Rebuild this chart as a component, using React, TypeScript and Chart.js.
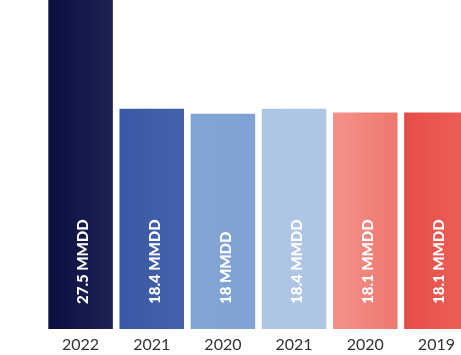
import React, { useEffect, useRef } from "react";
import { Chart, registerables } from "chart.js";

Chart.register(...registerables);

const categories = ["2022", "2021", "2020", "2021", "2020", "2019"];
const values = [27.5, 18.4, 18, 18.4, 18.1, 18.1];
const barLabels = ["27.5 MMDD", "18.4 MMDD", "18 MMDD", "18.4 MMDD", "18.1 MMDD", "18.1 MMDD"];
const colorsStart = ["#0b0f3e", "#3b58a6", "#83a5d4", "#aec4e4", "#f3938b", "#e74c47"];
const colorsEnd = ["#1c2254", "#4361ac", "#7ea2d4", "#b0c6e6", "#ee776d", "#ec6057"];

const barTextPlugin = {
  id: "barText",
  afterDatasetsDraw(chart: any) {
    const ctx = chart.ctx;
    const meta = chart.getDatasetMeta(0);
    const yBase = chart.scales.y.getPixelForValue(0);
    ctx.save();
    ctx.fillStyle = "#ffffff";
    ctx.font = "900 15px Lato";
    ctx.textAlign = "left";
    ctx.textBaseline = "middle";
    meta.data.forEach((el: any, i: number) => {
      ctx.save();
      ctx.translate(el.x + 3, yBase - 25);
      ctx.rotate(-Math.PI / 2);
      ctx.fillText(barLabels[i], 0, 0);
      ctx.restore();
    });
    ctx.restore();
  },
};

export default function App() {
  const ref = useRef<HTMLCanvasElement>(null);
  useEffect(() => {
    if (!ref.current) return;
    const chart = new Chart(ref.current, {
      type: "bar",
      data: {
        labels: categories,
        datasets: [
          {
            data: values,
            backgroundColor: (c: any) => {
              const chart = c.chart;
              const i = c.dataIndex;
              if (!chart.chartArea || !chart.scales.x || i === undefined) return colorsStart[i ?? 0];
              const x = chart.scales.x.getPixelForValue(i);
              const g = chart.ctx.createLinearGradient(x - 32, 0, x + 32, 0);
              g.addColorStop(0, colorsStart[i]);
              g.addColorStop(1, colorsEnd[i]);
              return g;
            },
            borderWidth: 0,
            barPercentage: 0.907,
            categoryPercentage: 1,
          },
        ],
      },
      options: {
        animation: false,
        responsive: false,
        layout: { padding: { left: 45, right: 0, top: 0, bottom: 0 } },
        plugins: { legend: { display: false }, tooltip: { enabled: false } },
        scales: {
          x: {
            grid: { display: false, drawTicks: false },
            border: { display: false },
            ticks: {
              color: "#333333",
              padding: 6,
              font: { family: "Lato", size: 16 },
            },
            afterFit: (scale: any) => {
              scale.height = 26;
            },
          },
          y: { display: false, min: 0, max: 27.5 },
        },
      },
      plugins: [barTextPlugin],
    });
    return () => chart.destroy();
  }, []);
  return (
    <div
      style={{
        position: "absolute",
        left: 0,
        top: 0,
        width: 461,
        height: 355,
        overflow: "hidden",
        background: "#ffffff",
      }}
    >
      <canvas ref={ref} width={472} height={355} style={{ display: "block", width: 472, height: 355 }} />
    </div>
  );
}
